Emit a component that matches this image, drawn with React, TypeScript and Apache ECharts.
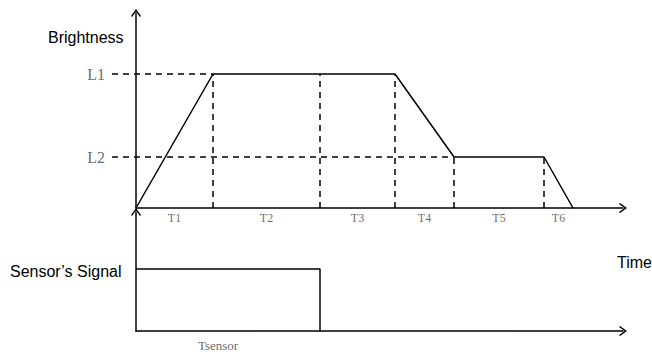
import React, { useEffect, useRef } from "react";
import * as echarts from "echarts";

// Time boundaries (end of each phase T1..T6), arbitrary units
const phaseNames = ["T1", "T2", "T3", "T4", "T5", "T6"];
const phaseEnds = [7.7, 18.4, 25.9, 31.8, 40.8, 43.7];
const timeMax = 48.7;

// Brightness levels
const levelNames = ["L1", "L2"];
const levelValues = [13.4, 5.1];
const brightnessMax = 19.5;
const guideStart = -2.4;

// Sensor signal
const sensorHigh = 6.2;
const sensorEnd = 18.4;
const sensorMax = 11.9;
const sensorLabel = "Tsensor";
const sensorLabelX = 8.2;

const ARROW = "path://M5,0 L10,7 L9,8 L5,2.4 L1,8 L0,7 Z";

export default function App() {
  const ref = useRef<HTMLDivElement>(null);
  useEffect(() => {
    if (!ref.current) return;
    const chart = echarts.init(ref.current, undefined, { renderer: "svg" });
    const [L1, L2] = levelValues;
    const t = [0, ...phaseEnds];

    const brightness = [
      [t[0], 0],
      [t[1], L1],
      [t[3], L1],
      [t[4], L2],
      [t[5], L2],
      [t[6], 0],
    ];
    const guides: any[] = [
      [guideStart, L1], [t[1], L1], "-",
      [guideStart, L2], [t[4], L2], "-",
      [t[1], 0], [t[1], L1], "-",
      [t[2], 0], [t[2], L1], "-",
      [t[3], 0], [t[3], L1], "-",
      [t[4], 0], [t[4], L2], "-",
      [t[5], 0], [t[5], L2],
    ];
    const phaseLabelData = phaseNames.map((n, i) => ({
      name: n,
      value: [(t[i] + t[i + 1]) / 2, 0],
    }));
    const levelLabelData = levelNames.map((n, i) => ({
      name: n,
      value: [guideStart, levelValues[i]],
    }));

    const axisLine = {
      show: true,
      onZero: false,
      symbol: ["none", ARROW],
      symbolSize: [10, 8],
      lineStyle: { color: "#000", width: 1.5 },
    };
    const hidden = {
      axisLine: { show: false },
      axisTick: { show: false },
      axisLabel: { show: false },
      splitLine: { show: false },
    };
    const baseX = {
      type: "value" as const,
      min: 0,
      max: timeMax,
      axisLine,
      axisTick: { show: false },
      axisLabel: { show: false },
      splitLine: { show: false },
    };
    const baseY = {
      type: "value" as const,
      min: 0,
      axisLine,
      axisTick: { show: false },
      axisLabel: { show: false },
      splitLine: { show: false },
    };
    const serif = "'Liberation Serif', 'DejaVu Serif', serif";
    const sans = "'Liberation Sans', Arial, sans-serif";

    chart.setOption({
      animation: false,
      backgroundColor: "#fff",
      grid: [
        { left: 136, right: 29, top: 13, height: 195 },
        { left: 136, right: 29, top: 212, height: 119 },
        { left: 112, right: 29, top: 13, height: 195 },
      ],
      xAxis: [
        { ...baseX, gridIndex: 0 },
        { ...baseX, gridIndex: 1 },
        { type: "value", gridIndex: 2, min: guideStart, max: timeMax, ...hidden },
      ],
      yAxis: [
        { ...baseY, gridIndex: 0, max: brightnessMax },
        { ...baseY, gridIndex: 1, max: sensorMax },
        { type: "value", gridIndex: 2, min: 0, max: brightnessMax, ...hidden },
      ],
      series: [
        {
          type: "line",
          xAxisIndex: 2,
          yAxisIndex: 2,
          data: guides,
          symbol: "none",
          lineStyle: { color: "#000", width: 1.5, type: [6, 5] },
          z: 1,
        },
        {
          type: "line",
          xAxisIndex: 0,
          yAxisIndex: 0,
          data: brightness,
          symbol: "none",
          lineStyle: { color: "#000", width: 1.5 },
          z: 3,
        },
        {
          type: "scatter",
          xAxisIndex: 0,
          yAxisIndex: 0,
          data: phaseLabelData,
          symbolSize: 0,
          clip: false,
          label: {
            show: true,
            position: "bottom",
            distance: 4,
            formatter: "{b}",
            color: "#444",
            fontFamily: serif,
            fontSize: 12,
          },
        },
        {
          type: "scatter",
          xAxisIndex: 2,
          yAxisIndex: 2,
          data: levelLabelData,
          symbolSize: 0,
          clip: false,
          label: {
            show: true,
            position: "left",
            distance: 7,
            formatter: "{b}",
            color: "#444",
            fontFamily: serif,
            fontSize: 16,
          },
        },
        {
          type: "line",
          xAxisIndex: 1,
          yAxisIndex: 1,
          data: [
            [0, sensorHigh],
            [sensorEnd, sensorHigh],
            [sensorEnd, 0],
          ],
          symbol: "none",
          lineStyle: { color: "#000", width: 1.5 },
        },
        {
          type: "scatter",
          xAxisIndex: 1,
          yAxisIndex: 1,
          data: [{ name: sensorLabel, value: [sensorLabelX, 0] }],
          symbolSize: 0,
          clip: false,
          label: {
            show: true,
            position: "bottom",
            distance: 8,
            formatter: "{b}",
            color: "#444",
            fontFamily: serif,
            fontSize: 13,
          },
        },
      ],
      graphic: [
        {
          type: "text",
          left: 48,
          top: 29,
          style: { text: "Brightness", fontFamily: sans, fontSize: 16, fill: "#000" },
        },
        {
          type: "text",
          left: 10,
          top: 263,
          style: { text: "Sensor\u2019s Signal", fontFamily: sans, fontSize: 16, fill: "#000" },
        },
        {
          type: "text",
          left: 617,
          top: 254,
          style: { text: "Time", fontFamily: sans, fontSize: 16, fill: "#000" },
        },
      ],
    });
    return () => chart.dispose();
  }, []);
  return (
    <div
      ref={ref}
      style={{ position: "fixed", left: 0, top: 0, width: 652, height: 356 }}
    />
  );
}
